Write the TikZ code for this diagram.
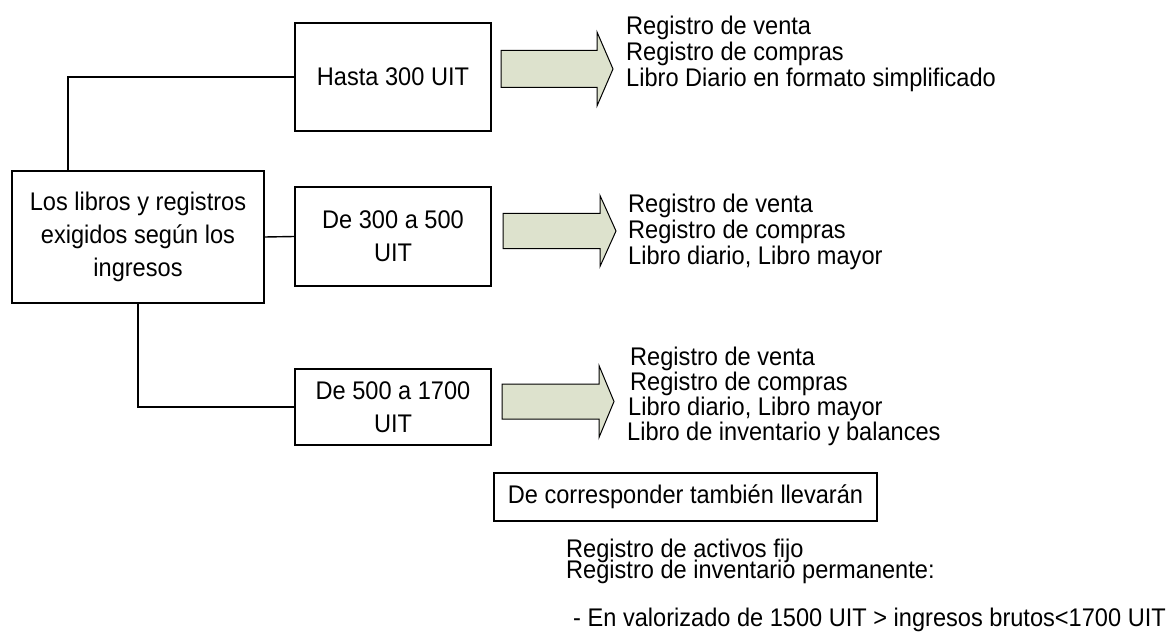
\documentclass[tikz,border=0pt]{standalone}
\usepackage{fontspec}
\setmainfont{Liberation Sans}[FakeStretch=0.925]
\definecolor{arrowfill}{RGB}{221,226,205}
\begin{document}
\begin{tikzpicture}[x=1pt,y=-1pt,
  box/.style={draw, line width=1.4pt, align=center, inner sep=0pt, font=\fontsize{25.5}{33}\selectfont},
  txt/.style={anchor=base west, inner sep=0pt, font=\fontsize{25.5}{30}\selectfont},
  link/.style={line width=1.4pt},
  bigarrow/.style={draw, line width=1pt, fill=arrowfill, line join=miter}]
\useasboundingbox (0,0) rectangle (1174,644);

% boxes
\node[box, minimum width=196pt, minimum height=108pt] (hasta) at (393,77) {Hasta 300 UIT};
\node[box, minimum width=252pt, minimum height=132pt] (main) at (138,237) {Los libros y registros\\exigidos según los\\ingresos};
\node[box, minimum width=196pt, minimum height=99pt] (de300) at (393,236.5) {De 300 a 500\\UIT};
\node[box, minimum width=196pt, minimum height=76pt] (de500) at (393,407) {De 500 a 1700\\UIT};
\node[box, minimum width=383pt, minimum height=48pt] (corr) at (685.5,497) {De corresponder también llevarán};

% connectors
\draw[link] (hasta.west) -| ([xshift=-70pt]main.north);
\draw[link] (main.east) -- (de300.west);
\draw[link] (main.south) |- (de500.west);

% block arrows
\draw[bigarrow] (501,50.5) -- (597,50.5) -- (597,32) -- (613,69) -- (597,106) -- (597,87.5) -- (501,87.5) -- cycle;
\draw[bigarrow] (503,213.5) -- (600,213.5) -- (600,195.5) -- (616,231) -- (600,266.5) -- (600,248.5) -- (503,248.5) -- cycle;
\draw[bigarrow] (502,384) -- (599,384) -- (599,365.5) -- (614,401.5) -- (599,437.5) -- (599,419) -- (502,419) -- cycle;

% group 1
\node[txt] (g1a) at (626,35) {Registro de venta};
\node[txt] (g1b) at (626,61) {Registro de compras};
\node[txt] (g1c) at (626,87) {Libro Diario en formato simplificado};
% group 2
\node[txt] (g2a) at (628,213) {Registro de venta};
\node[txt] (g2b) at (628,239) {Registro de compras};
\node[txt] (g2c) at (628,265) {Libro diario, Libro mayor};
% group 3
\node[txt] (g3a) at (630,365) {Registro de venta};
\node[txt] (g3b) at (630,390) {Registro de compras};
\node[txt] (g3c) at (628,415) {Libro diario, Libro mayor};
\node[txt] (g3d) at (627,440) {Libro de inventario y balances};
% bottom
\node[txt] (b1) at (566,557) {Registro de activos fijo};
\node[txt] (b2) at (566,578) {Registro de inventario permanente:};
\node[txt] (b3) at (573,626) {- En valorizado de 1500 UIT > ingresos brutos<1700 UIT};
\end{tikzpicture}
\end{document}
